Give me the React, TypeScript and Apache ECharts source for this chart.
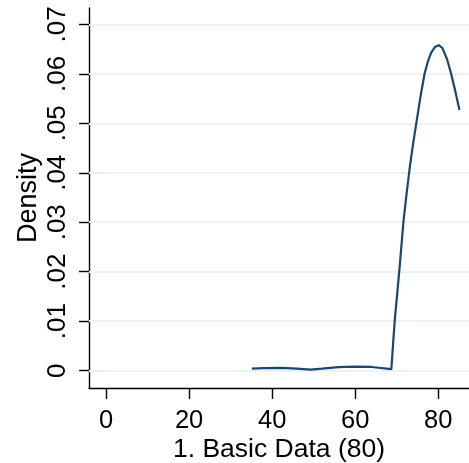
import React, { useEffect, useRef } from "react";
import * as echarts from "echarts";

const xValues = [35.1, 38, 42, 46, 49.2, 52, 56, 60, 64, 68.7, 69.5, 70.6, 71.6, 72.4, 73.2, 74.0, 74.8, 75.7, 76.7, 77.5, 78.3, 79.2, 80.1, 81.0, 82.1, 83.1, 84.1, 85.1];
const densityValues = [0.0004, 0.0005, 0.00055, 0.0004, 0.0002, 0.0004, 0.0007, 0.0008, 0.00075, 0.0003, 0.01, 0.02, 0.03, 0.036, 0.0415, 0.0462, 0.0505, 0.0553, 0.06, 0.0625, 0.0643, 0.0654, 0.0658, 0.0652, 0.063, 0.06, 0.0565, 0.0527];
const xTicks = [0, 20, 40, 60, 80];
const yTicks = [0, 0.01, 0.02, 0.03, 0.04, 0.05, 0.06, 0.07];
const yTickLabels = ["0", ".01", ".02", ".03", ".04", ".05", ".06", ".07"];
const xTitle = "1. Basic Data (80)";
const yTitle = "Density";

const FONT = "Liberation Sans, Arial, Helvetica, sans-serif";

export default function App() {
  const ref = useRef<HTMLDivElement>(null);
  useEffect(() => {
    const chart = echarts.init(ref.current!, null, { renderer: "svg" });
    chart.setOption({
      animation: false,
      grid: { left: 89, right: 0, top: 8, bottom: 75, containLabel: false, outerBoundsMode: "none" },
      xAxis: {
        type: "value",
        min: -4.1,
        max: 87.4,
        name: xTitle,
        nameLocation: "middle",
        nameGap: 46,
        nameMoveOverlap: false,
        nameTextStyle: { fontSize: 26.5, lineHeight: 27, color: "#000", fontFamily: FONT },
        axisLine: { show: true, onZero: false, lineStyle: { color: "#000", width: 1.4 } },
        axisTick: { show: true, length: 11, customValues: xTicks, lineStyle: { color: "#000", width: 1.4 } },
        axisLabel: { customValues: xTicks, fontSize: 25.5, lineHeight: 24, color: "#000", fontFamily: FONT, margin: 19 },
        splitLine: { show: false },
      },
      yAxis: {
        type: "value",
        min: -0.0035,
        max: 0.0733,
        name: yTitle,
        nameLocation: "middle",
        nameGap: 49,
        nameMoveOverlap: false,
        nameRotate: 90,
        nameTextStyle: { fontSize: 27, lineHeight: 27, color: "#000", fontFamily: FONT },
        axisLine: { show: true, onZero: false, lineStyle: { color: "#000", width: 1.4 } },
        axisTick: { show: true, length: 10, customValues: yTicks, lineStyle: { color: "#000", width: 1.4 } },
        axisLabel: {
          customValues: yTicks,
          rotate: 90,
          fontSize: 26,
          color: "#000",
          fontFamily: FONT,
          margin: 20,
          formatter: (v: number) => {
            const i = yTicks.findIndex((t) => Math.abs(t - v) < 1e-9);
            return i >= 0 ? yTickLabels[i] : "";
          },
        },
        splitLine: { show: false },
      },
      series: [
        {
          type: "line",
          data: xValues.map((x, i) => [x, densityValues[i]]),
          showSymbol: false,
          smooth: false,
          lineStyle: { color: "#1a476f", width: 2.2 },
          z: 3,
          markLine: {
            silent: true,
            symbol: "none",
            label: { show: false },
            z: 1,
            lineStyle: { color: "#eaf2f3", width: 2, type: "solid" },
            data: yTicks.map((v) => ({ yAxis: v })),
          },
        },
      ],
    });
    return () => chart.dispose();
  }, []);
  return <div ref={ref} style={{ position: "fixed", left: 0, top: 0, width: 469, height: 463 }} />;
}
